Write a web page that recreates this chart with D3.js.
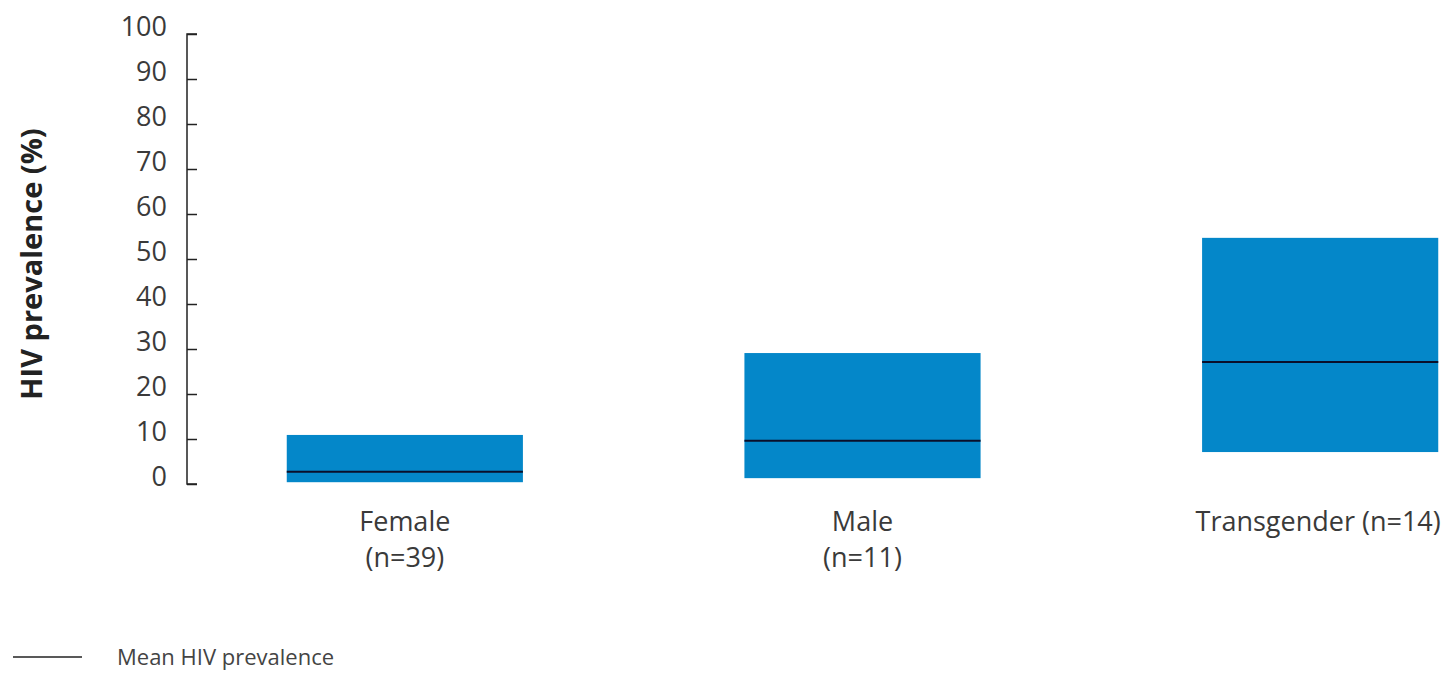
<!DOCTYPE html>
<html><head><meta charset="utf-8">
<script src="https://cdn.jsdelivr.net/npm/d3@7"></script>
<style>body{margin:0;background:#fff}svg{display:block}</style>
</head><body>
<svg id="c" width="1448" height="674"></svg>
<script>
const categories = ["Female", "Male", "Transgender"];
const catLabels = [["Female", "(n=39)"], ["Male", "(n=11)"], ["Transgender (n=14)"]];
const lowValues = [0.4, 1.3, 7.1];
const highValues = [10.9, 29.1, 54.7];
const meanValues = [2.7, 9.6, 27.1];
const yTicks = [0, 10, 20, 30, 40, 50, 60, 70, 80, 90, 100];
const yTitle = "HIV prevalence (%)";
const legendLabel = "Mean HIV prevalence";

const svg = d3.select("#c");
const font = "'Open Sans', Lato, sans-serif";
const y = d3.scaleLinear().domain([0, 100]).range([484, 34]);
const x = d3.scaleBand().domain(categories).range([176, 1549]).paddingInner(0.484).paddingOuter(0.242);

// y axis
const ax = svg.append("g").attr("transform", "translate(187,0)")
  .call(d3.axisRight(y).tickValues(yTicks).tickSize(10).tickFormat(""));
ax.select(".domain").attr("stroke", "#222").attr("stroke-width", 1.5).attr("d", `M10,${y(100)}H0V${y(0)}H10`);
ax.selectAll(".tick line").attr("stroke", "#222").attr("stroke-width", 1.5);
svg.append("g").selectAll("text").data(yTicks).join("text")
  .attr("x", 167).attr("y", d => y(d) - 7)
  .attr("dy", "0.35em").attr("text-anchor", "end")
  .attr("font-family", font).attr("font-size", 27).attr("fill", "#3a3a3a")
  .text(d => d);

// y title
svg.append("text").attr("transform", "translate(32,264) rotate(-90)")
  .attr("text-anchor", "middle").attr("dy", "0.35em")
  .attr("font-family", font).attr("font-weight", "bold").attr("font-size", 29).attr("fill", "#222")
  .text(yTitle);

// boxes
svg.append("g").selectAll("rect").data(categories).join("rect")
  .attr("x", d => x(d)).attr("width", x.bandwidth())
  .attr("y", (d, i) => y(highValues[i]))
  .attr("height", (d, i) => y(lowValues[i]) - y(highValues[i]))
  .attr("fill", "#0487c9");
svg.append("g").selectAll("line").data(categories).join("line")
  .attr("x1", d => x(d)).attr("x2", d => x(d) + x.bandwidth())
  .attr("y1", (d, i) => y(meanValues[i])).attr("y2", (d, i) => y(meanValues[i]))
  .attr("stroke", "#0a0f2a").attr("stroke-width", 2);

// x labels
const xl = svg.append("g").selectAll("text").data(categories).join("text")
  .attr("text-anchor", "middle")
  .attr("font-family", font).attr("font-size", 27).attr("fill", "#3a3a3a");
xl.each(function(d, i) {
  const t = d3.select(this);
  catLabels[i].forEach((s, j) => {
    t.append("tspan").attr("x", x(d) + x.bandwidth() / 2 - (i === 2 ? 2 : 0)).attr("y", 531 + j * 36).text(s);
  });
});

// legend
svg.append("line").attr("x1", 13).attr("x2", 82).attr("y1", 657).attr("y2", 657)
  .attr("stroke", "#222").attr("stroke-width", 1.5);
svg.append("text").attr("x", 117).attr("y", 665)
  .attr("font-family", font).attr("font-size", 22).attr("fill", "#444")
  .text(legendLabel);
</script>
</body></html>
